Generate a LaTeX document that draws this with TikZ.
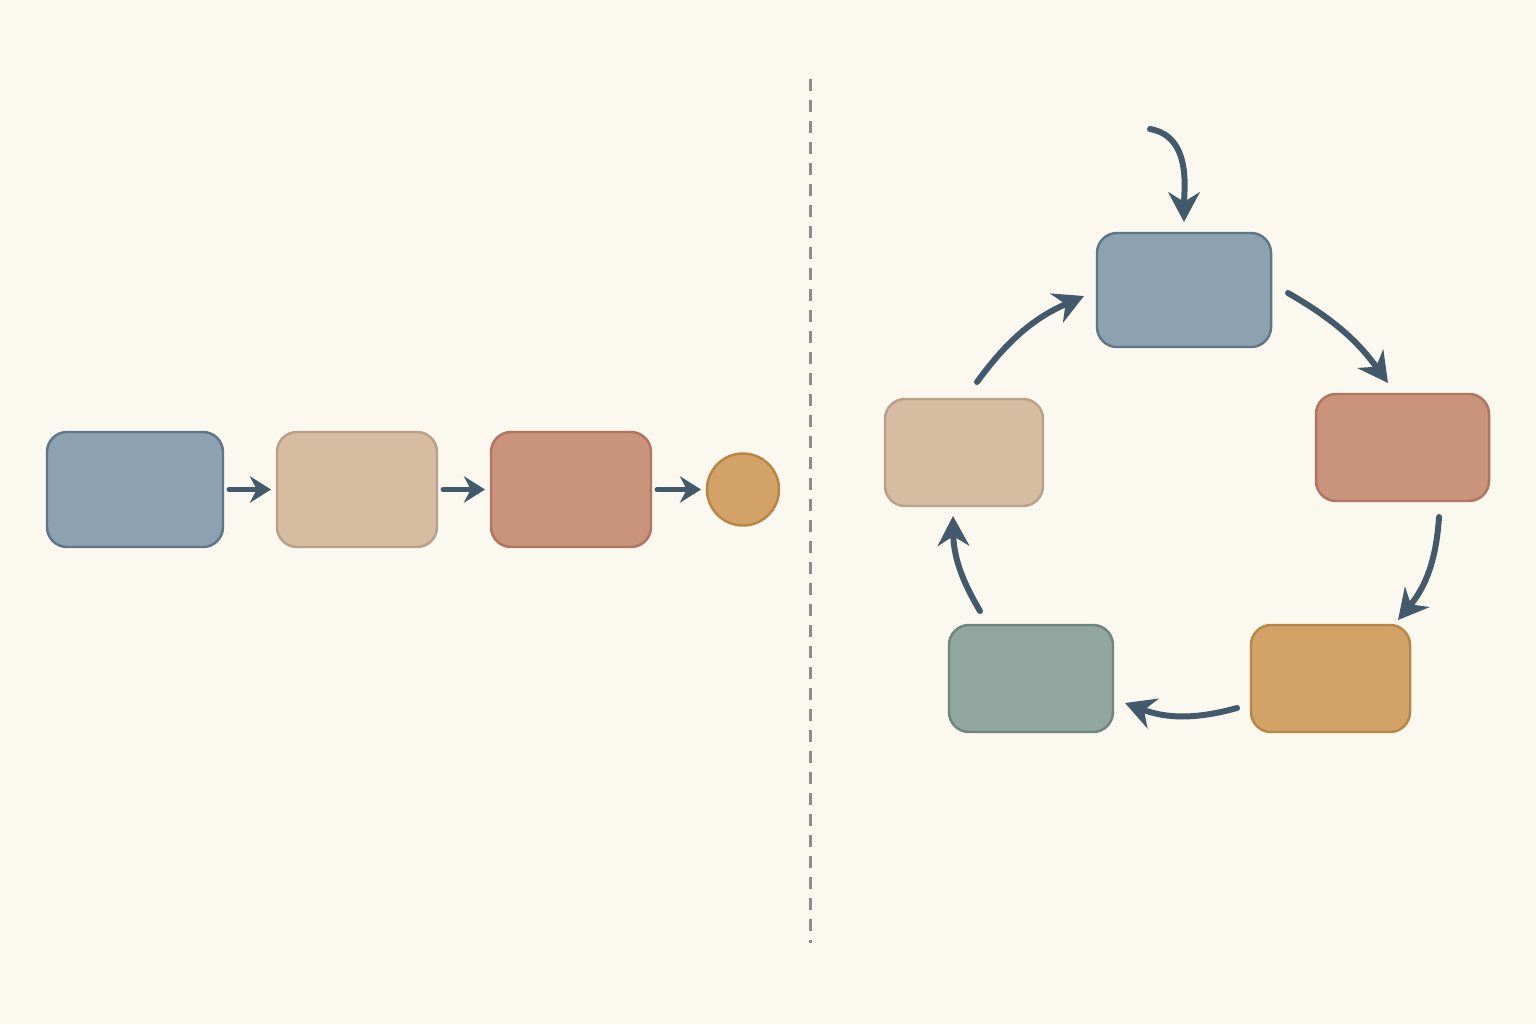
\documentclass[tikz,border=0pt]{standalone}
\usepackage{xcolor}
\usepackage{tikz}
\usetikzlibrary{arrows.meta, positioning}

\definecolor{paper}{HTML}{FBF8F0}
\definecolor{ink}{HTML}{435A6C}
\definecolor{slatefill}{HTML}{8CA2B0}
\definecolor{slateline}{HTML}{5F7687}
\definecolor{sandfill}{HTML}{D6BDA1}
\definecolor{sandline}{HTML}{B9A08A}
\definecolor{clayfill}{HTML}{C9937C}
\definecolor{clayline}{HTML}{B07560}
\definecolor{ochrefill}{HTML}{D2A266}
\definecolor{ochreline}{HTML}{B88748}
\definecolor{sagefill}{HTML}{91A69E}
\definecolor{sageline}{HTML}{6F867E}
\definecolor{divider}{HTML}{8A8C8E}

\begin{document}
\begin{tikzpicture}[
    node distance=0.54cm,
    stage/.style={rectangle, rounded corners=0.2cm, line width=0.7pt,
                  minimum height=1.15cm, inner sep=0pt, outer sep=0pt},
    slate/.style={stage, fill=slatefill, draw=slateline},
    sand/.style={stage, fill=sandfill, draw=sandline},
    clay/.style={stage, fill=clayfill, draw=clayline},
    ochre/.style={stage, fill=ochrefill, draw=ochreline},
    sage/.style={stage, fill=sagefill, draw=sageline},
    step arrow/.style={draw=ink, line width=1.4pt, line cap=round,
                       -{Stealth[length=6pt, width=7.5pt]},
                       shorten <=0.06cm, shorten >=0.06cm},
    loop arrow/.style={draw=ink, line width=1.7pt, line cap=round,
                       -{Stealth[length=8.5pt, width=9pt]}}
]
    \fill[paper] (0,0) rectangle (15.36,10.24);
    \useasboundingbox (0,0) rectangle (15.36,10.24);

    % linear chain
    \node[slate, minimum width=1.76cm] (lin1) at (1.35,5.345) {};
    \node[sand, minimum width=1.6cm, right=of lin1] (lin2) {};
    \node[clay, minimum width=1.6cm, right=of lin2] (lin3) {};
    \node[circle, fill=ochrefill, draw=ochreline, line width=0.7pt,
          minimum size=0.72cm, inner sep=0pt, outer sep=0pt,
          right=0.56cm of lin3] (linend) {};

    \draw[step arrow] (lin1) -- (lin2);
    \draw[step arrow] (lin2) -- (lin3);
    \draw[step arrow] (lin3) -- (linend);

    % divider
    \coordinate (divtop) at (8.10,9.45);
    \coordinate (divbot) at (8.10,0.81);
    \draw[divider, line width=0.85pt, dash pattern=on 0.12cm off 0.09cm]
        (divtop) -- (divbot);

    % cycle
    \node[slate, minimum width=1.74cm, minimum height=1.14cm] (cyctop) at (11.84,7.34) {};
    \node[clay, minimum width=1.73cm, minimum height=1.07cm] (cycright) at (14.025,5.765) {};
    \node[ochre, minimum width=1.59cm, minimum height=1.07cm] (cyclowr) at (13.305,3.455) {};
    \node[sage, minimum width=1.64cm, minimum height=1.07cm] (cyclowl) at (10.31,3.455) {};
    \node[sand, minimum width=1.58cm, minimum height=1.07cm] (cycleft) at (9.64,5.715) {};

    \coordinate (entry) at (11.50,8.95);
    \draw[loop arrow, shorten >=0.11cm] (entry) to[out=-10, in=90] (cyctop.north);
    \draw[loop arrow] ([shift={(0.17,-0.03)}]cyctop.east)
        to[bend left=12] ([shift={(-0.145,0.11)}]cycright.north);
    \draw[loop arrow] ([shift={(0.365,-0.16)}]cycright.south)
        to[bend left=18] ([shift={(-0.12,0.05)}]cyclowr.north east);
    \draw[loop arrow] ([shift={(-0.14,-0.295)}]cyclowr.west)
        to[bend left=18] ([shift={(0.12,-0.245)}]cyclowl.east);
    \draw[loop arrow] ([shift={(0.31,0.14)}]cyclowl.north west)
        to[bend left=15] ([shift={(-0.11,-0.10)}]cycleft.south);
    \draw[loop arrow] ([shift={(0.13,0.17)}]cycleft.north)
        to[bend left=15] ([shift={(-0.13,-0.06)}]cyctop.west);
\end{tikzpicture}
\end{document}
